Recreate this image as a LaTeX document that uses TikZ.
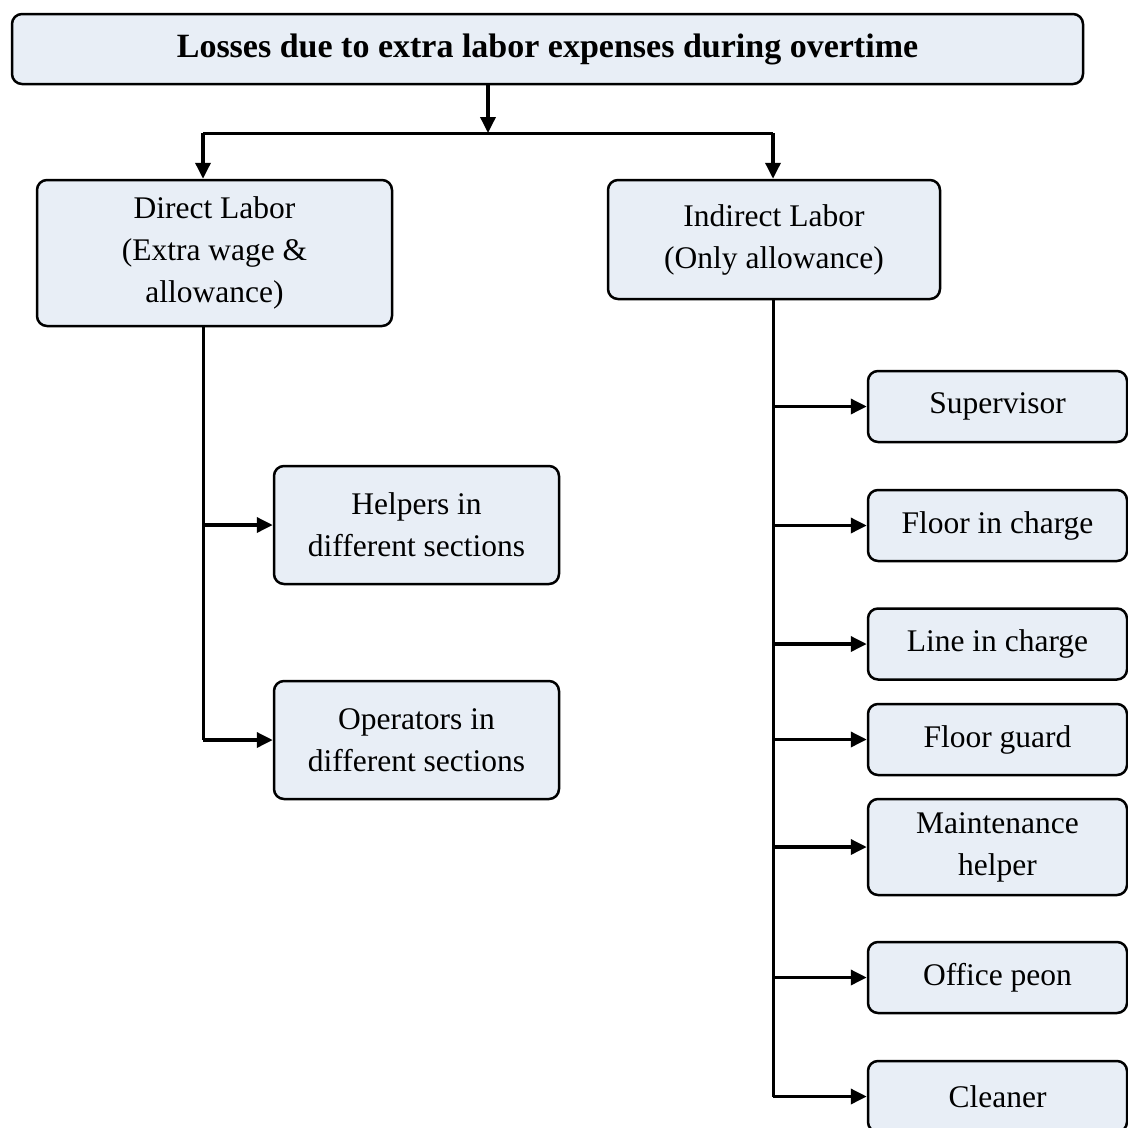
\documentclass[tikz,border=0pt]{standalone}
\usepackage{fontspec}
\setmainfont{Liberation Serif}
\usetikzlibrary{arrows.meta}
\definecolor{boxfill}{RGB}{232,238,246}
\tikzset{
    labbox/.style={draw, fill=boxfill, line width=2.5pt, rounded corners=10pt,
        inner sep=0pt, align=center, font=\fontsize{31.5}{42}\selectfont},
    sidebox/.style={labbox, minimum width=259pt, minimum height=71pt},
    link/.style={line width=3pt},
    arr/.style={line width=3.5pt, -{Triangle[length=16pt,width=15pt]}}
}
\begin{document}
\begin{tikzpicture}[x=1pt, y=-1pt]
                \useasboundingbox (0,0) rectangle (1128,1128);
                \clip (0,0) rectangle (1128,1128);
                % Title Box
                \node[labbox, minimum width=1071pt, minimum height=70pt,
                    font=\fontsize{34}{40}\selectfont\bfseries] (losses) at (547.5,49)
                    {Losses due to extra labor expenses during overtime};

                % Direct and Indirect
                \node[labbox, minimum width=355pt, minimum height=146pt] (direct) at (214.5,253)
                    {Direct Labor\\(Extra wage \&\\allowance)};
                \node[labbox, minimum width=332pt, minimum height=119pt] (indirect) at (774,239.5)
                    {Indirect Labor\\(Only allowance)};

                % Direct Labor groups
                \node[labbox, minimum width=285pt, minimum height=118pt] (helpers) at (416.5,525)
                    {Helpers in\\different sections};
                \node[labbox, minimum width=285pt, minimum height=118pt] (operators) at (416.5,740)
                    {Operators in\\different sections};

                % Indirect Labor groups
                \node[sidebox] (supervisor) at (997.5,406.5) {Supervisor};
                \node[sidebox] (floorin) at (997.5,525.5) {Floor in charge};
                \node[sidebox] (linein) at (997.5,644) {Line in charge};
                \node[sidebox] (guard) at (997.5,739.5) {Floor guard};
                \node[sidebox, minimum height=96pt] (maint) at (997.5,847) {Maintenance\\helper};
                \node[sidebox] (peon) at (997.5,977.5) {Office peon};
                \node[sidebox] (cleaner) at (997.5,1096.5) {Cleaner};

                % Split under the title
                \coordinate (split) at (488,133);
                \coordinate (dtrunk) at (203,133);
                \coordinate (itrunk) at (773,133);
                \draw[arr] (split |- losses.south) -- (split);
                \draw[link] (dtrunk) -- (itrunk);
                \draw[arr] (dtrunk) -- (dtrunk |- direct.north);
                \draw[arr] (itrunk) -- (itrunk |- indirect.north);

                % Direct trunk
                \draw[link] (dtrunk |- direct.south) -- (dtrunk |- operators.west);
                \foreach \g in {helpers, operators}
                    \draw[arr] (dtrunk |- \g.west) -- (\g.west);

                % Indirect trunk
                \draw[link] (itrunk |- indirect.south) -- (itrunk |- cleaner.west);
                \foreach \g in {supervisor, floorin, linein, guard, maint, peon, cleaner}
                    \draw[arr] (itrunk |- \g.west) -- (\g.west);
\end{tikzpicture}
\end{document}
